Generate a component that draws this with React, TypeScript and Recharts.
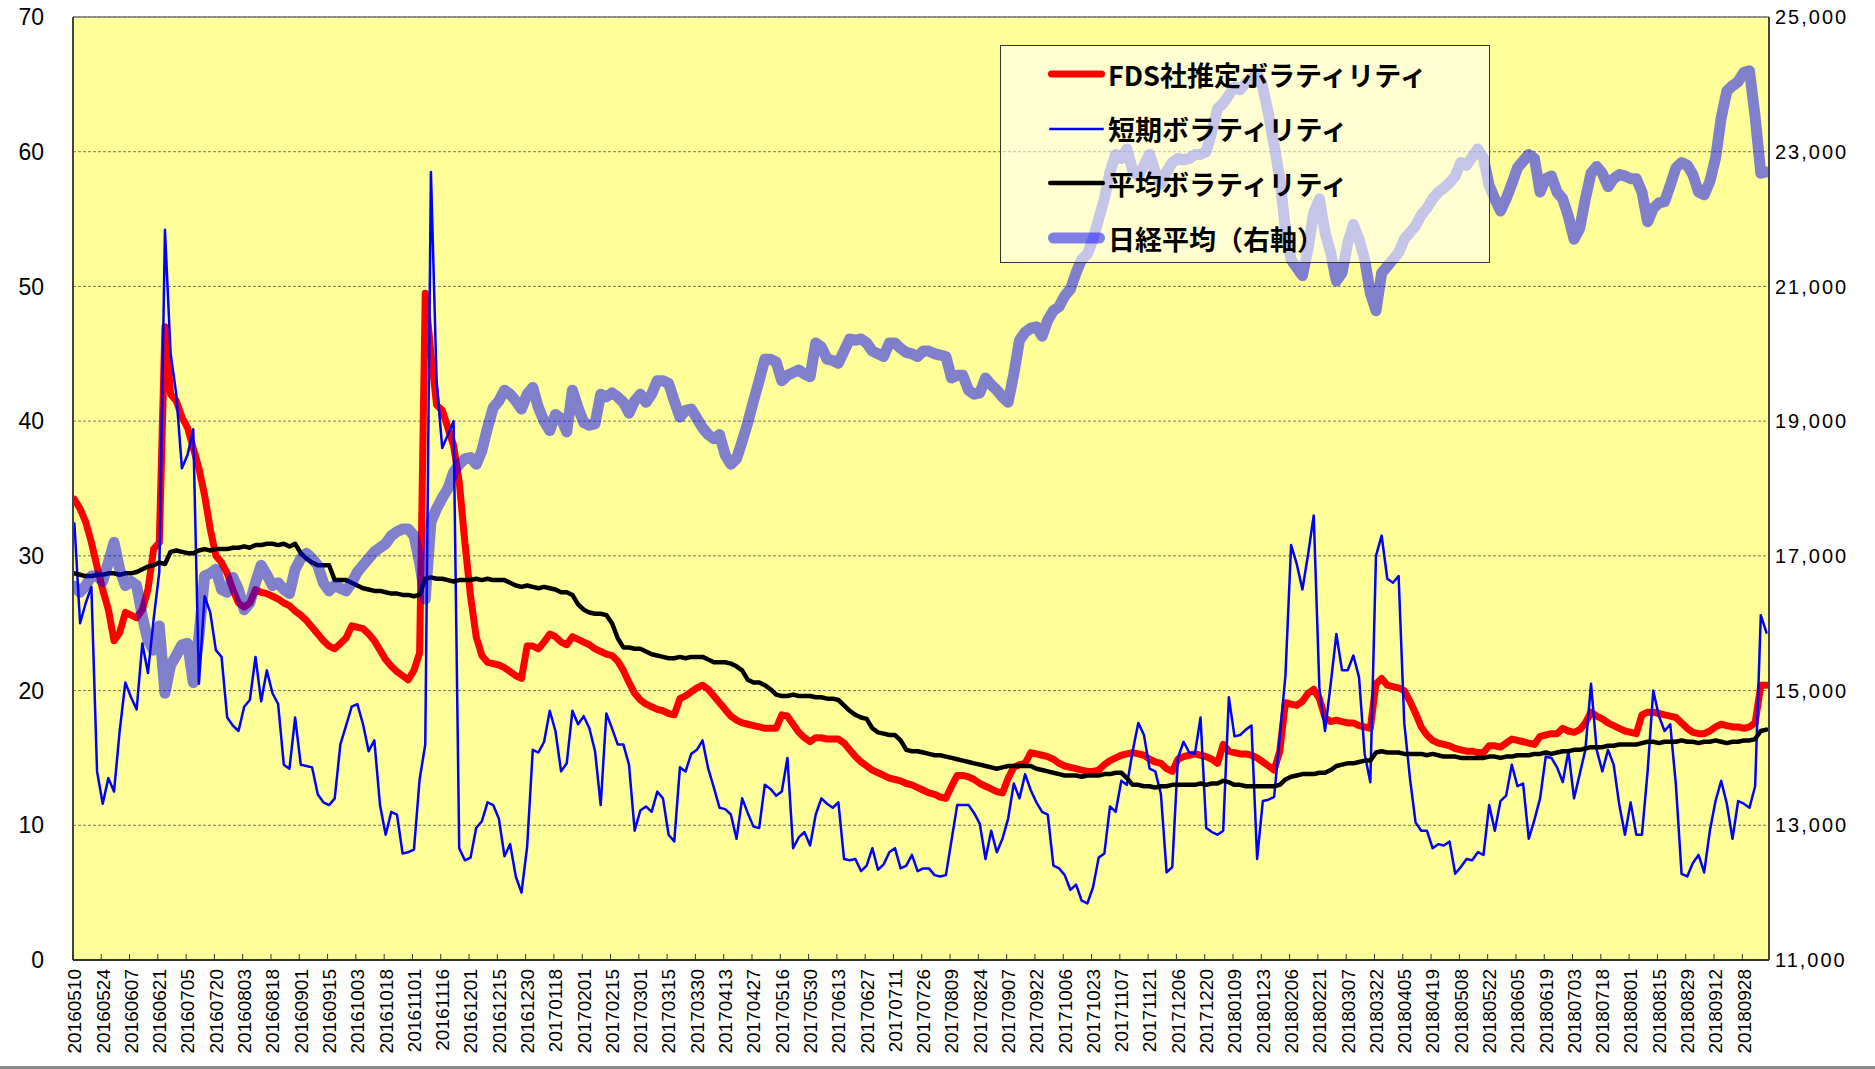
import { CartesianGrid, Legend, Line, LineChart, ReferenceLine, XAxis, YAxis } from "recharts";

const W = 1875;
const H = 1069;

// one label every 10 trading days; data points every 2 trading days (5 per label)
const dateLabels = [
  "20160510", "20160524", "20160607", "20160621", "20160705", "20160720", "20160803", "20160818",
  "20160901", "20160915", "20161003", "20161018", "20161101", "20161116", "20161201", "20161215",
  "20161230", "20170118", "20170201", "20170215", "20170301", "20170315", "20170330", "20170413",
  "20170427", "20170516", "20170530", "20170613", "20170627", "20170711", "20170726", "20170809",
  "20170824", "20170907", "20170922", "20171006", "20171023", "20171107", "20171121", "20171206",
  "20171220", "20180109", "20180123", "20180206", "20180221", "20180307", "20180322", "20180405",
  "20180419", "20180508", "20180522", "20180605", "20180619", "20180703", "20180718", "20180801",
  "20180815", "20180829", "20180912", "20180928",
];

const fdsVol = [
  34.2, 33.5, 32.5, 31.0, 29.2, 27.5, 26.0, 23.7, 24.3, 25.8,
  25.6, 25.4, 26.0, 27.5, 30.5, 31.0, 47.0, 42.0, 41.5, 40.3,
  39.5, 38.0, 36.5, 34.5, 32.0, 30.0, 29.5, 28.7, 27.5, 26.5,
  26.2, 26.5, 27.5, 27.3, 27.2, 27.0, 26.8, 26.5, 26.3, 25.9,
  25.6, 25.2, 24.7, 24.2, 23.7, 23.3, 23.1, 23.5, 23.9, 24.8,
  24.7, 24.6, 24.2, 23.7, 23.0, 22.3, 21.8, 21.4, 21.1, 20.8,
  21.5, 22.8, 49.5, 45.0, 41.2, 40.8, 39.5, 38.2, 35.5, 31.0,
  27.0, 24.0, 22.6, 22.1, 22.0, 21.9, 21.7, 21.4, 21.1, 20.9,
  23.3, 23.3, 23.1, 23.6, 24.2, 24.0, 23.6, 23.4, 24.0, 23.8,
  23.6, 23.4, 23.1, 22.9, 22.7, 22.6, 22.2, 21.5, 20.6, 19.8,
  19.3, 19.0, 18.8, 18.6, 18.5, 18.3, 18.2, 19.4, 19.6, 19.9,
  20.2, 20.4, 20.1, 19.6, 19.1, 18.6, 18.1, 17.8, 17.6, 17.5,
  17.4, 17.3, 17.2, 17.2, 17.2, 18.2, 18.1, 17.5, 16.9, 16.5,
  16.2, 16.5, 16.5, 16.4, 16.4, 16.4, 16.1, 15.6, 15.1, 14.7,
  14.4, 14.1, 13.9, 13.7, 13.5, 13.4, 13.3, 13.1, 13.0, 12.8,
  12.6, 12.4, 12.3, 12.1, 12.0, 12.9, 13.7, 13.7, 13.6, 13.4,
  13.1, 12.9, 12.7, 12.5, 12.4, 13.5, 14.3, 14.5, 14.6, 15.4,
  15.3, 15.2, 15.1, 14.9, 14.6, 14.4, 14.3, 14.2, 14.1, 14.0,
  14.0, 14.1, 14.5, 14.8, 15.0, 15.2, 15.3, 15.4, 15.3, 15.2,
  14.9, 14.7, 14.6, 14.2, 14.0, 14.9, 15.1, 15.2, 15.3, 15.2,
  15.1, 14.9, 14.6, 16.0, 15.5, 15.4, 15.3, 15.3, 15.2, 15.0,
  14.7, 14.4, 14.1, 15.5, 19.1, 19.0, 18.9, 19.2, 19.8, 20.1,
  19.4, 18.0, 17.7, 17.8, 17.7, 17.6, 17.6, 17.4, 17.3, 17.2,
  20.5, 20.9, 20.4, 20.3, 20.2, 20.0, 19.2, 18.3, 17.3, 16.7,
  16.3, 16.1, 16.0, 15.9, 15.7, 15.6, 15.5, 15.5, 15.4, 15.4,
  15.9, 15.9, 15.8, 16.1, 16.4, 16.3, 16.2, 16.1, 16.0, 16.6,
  16.7, 16.8, 16.8, 17.2, 17.0, 16.9, 17.1, 17.6, 18.4, 18.1,
  17.9, 17.6, 17.4, 17.2, 17.0, 16.9, 16.8, 18.2, 18.4, 18.4,
  18.3, 18.2, 18.1, 18.0, 17.6, 17.2, 16.9, 16.8, 16.8, 17.0,
  17.3, 17.5, 17.4, 17.3, 17.3, 17.2, 17.3, 17.6, 20.4, 20.4,
];

const shortVol = [
  32.4, 25.0, 26.5, 27.7, 14.0, 11.6, 13.5, 12.5, 17.0, 20.6,
  19.5, 18.6, 23.5, 21.3, 25.3, 28.8, 54.2, 45.0, 42.0, 36.5,
  37.5, 39.4, 20.5, 27.0, 25.8, 23.0, 22.5, 18.0, 17.4, 17.0,
  18.8, 19.3, 22.5, 19.2, 21.5, 19.8, 19.0, 14.5, 14.2, 18.0,
  14.5, 14.4, 14.3, 12.3, 11.7, 11.5, 12.0, 16.0, 17.4, 18.8,
  19.0, 17.5, 15.5, 16.3, 11.5, 9.3, 11.0, 10.8, 7.9, 8.0,
  8.2, 13.4, 16.0, 58.5, 43.0, 38.0, 39.0, 40.0, 8.3, 7.4,
  7.6, 9.8, 10.3, 11.7, 11.5, 10.5, 7.7, 8.6, 6.2, 5.0,
  8.4, 15.6, 15.4, 16.2, 18.5, 17.0, 14.0, 14.6, 18.5, 17.5,
  18.1, 17.2, 15.5, 11.5, 18.3, 17.2, 16.0, 16.0, 14.5, 9.6,
  11.1, 11.4, 11.0, 12.5, 12.0, 9.3, 8.8, 14.3, 14.0, 15.3,
  15.6, 16.3, 14.2, 12.8, 11.3, 11.2, 10.8, 9.0, 12.0, 10.9,
  9.9, 9.8, 13.0, 12.7, 12.2, 12.5, 15.0, 8.3, 9.1, 9.5,
  8.5, 10.8, 12.0, 11.6, 11.3, 11.7, 7.5, 7.4, 7.5, 6.6,
  7.0, 8.3, 6.7, 7.1, 8.0, 8.3, 6.8, 7.0, 7.8, 6.6,
  6.8, 6.8, 6.3, 6.2, 6.3, 8.9, 11.5, 11.5, 11.5, 10.9,
  10.1, 7.5, 9.6, 8.0, 9.0, 10.5, 13.1, 12.0, 13.8, 12.6,
  11.7, 11.0, 10.8, 7.0, 6.8, 6.3, 5.2, 5.6, 4.4, 4.2,
  5.4, 7.6, 7.9, 11.4, 11.0, 13.3, 13.0, 15.5, 17.6, 16.7,
  14.2, 14.0, 12.3, 6.5, 6.9, 15.0, 16.2, 15.4, 15.3, 18.0,
  9.8, 9.5, 9.3, 9.6, 19.5, 16.6, 16.7, 17.1, 17.4, 7.5,
  11.8, 11.9, 12.1, 16.6, 21.1, 30.8, 29.4, 27.5, 30.1, 33.0,
  20.2, 17.0, 20.5, 24.2, 21.5, 21.5, 22.6, 21.0, 15.3, 13.2,
  30.0, 31.5, 28.3, 28.0, 28.5, 17.6, 13.5, 10.2, 9.6, 9.6,
  8.3, 8.6, 8.5, 8.8, 6.4, 6.9, 7.5, 7.4, 8.0, 7.8,
  11.5, 9.6, 11.8, 12.2, 14.5, 12.9, 13.1, 9.0, 10.4, 12.0,
  15.1, 15.0, 14.3, 13.2, 15.5, 12.0, 13.8, 15.6, 20.5, 15.6,
  14.0, 15.6, 14.5, 11.5, 9.3, 11.7, 9.3, 9.3, 14.0, 20.0,
  18.1, 17.0, 17.5, 13.0, 6.4, 6.2, 7.2, 7.8, 6.5, 9.6,
  11.8, 13.3, 11.6, 9.0, 11.8, 11.6, 11.3, 12.9, 25.6, 24.3,
];

const avgVol = [
  28.7, 28.6, 28.5, 28.5, 28.6, 28.6, 28.7, 28.7, 28.6, 28.7,
  28.7, 28.8, 29.0, 29.2, 29.3, 29.5, 29.4, 30.3, 30.4, 30.3,
  30.2, 30.2, 30.4, 30.5, 30.4, 30.5, 30.5, 30.5, 30.6, 30.6,
  30.7, 30.6, 30.8, 30.8, 30.9, 30.9, 30.8, 30.9, 30.7, 30.9,
  30.2, 29.8, 29.5, 29.3, 29.3, 29.3, 28.2, 28.2, 28.2, 28.0,
  27.8, 27.6, 27.5, 27.4, 27.4, 27.3, 27.2, 27.2, 27.1, 27.1,
  27.0, 27.1, 28.3, 28.4, 28.3, 28.3, 28.2, 28.1, 28.2, 28.2,
  28.2, 28.3, 28.2, 28.3, 28.2, 28.2, 28.2, 28.0, 27.8, 27.7,
  27.8, 27.7, 27.6, 27.7, 27.6, 27.5, 27.3, 27.3, 27.1, 26.4,
  26.0, 25.8, 25.7, 25.7, 25.6, 25.0, 23.9, 23.2, 23.2, 23.1,
  23.1, 22.9, 22.7, 22.6, 22.5, 22.4, 22.4, 22.5, 22.4, 22.5,
  22.5, 22.5, 22.3, 22.1, 22.1, 22.1, 22.0, 21.8, 21.5, 20.8,
  20.6, 20.6, 20.4, 20.1, 19.7, 19.6, 19.6, 19.7, 19.6, 19.6,
  19.6, 19.5, 19.5, 19.4, 19.4, 19.3, 18.9, 18.5, 18.2, 18.0,
  17.9, 17.2, 16.9, 16.8, 16.7, 16.7, 16.3, 15.6, 15.5, 15.5,
  15.4, 15.3, 15.2, 15.2, 15.1, 15.0, 14.9, 14.8, 14.7, 14.6,
  14.5, 14.4, 14.3, 14.2, 14.3, 14.4, 14.4, 14.4, 14.4, 14.4,
  14.2, 14.1, 14.0, 13.9, 13.8, 13.7, 13.7, 13.7, 13.6, 13.7,
  13.7, 13.7, 13.8, 13.8, 13.9, 13.9, 13.5, 13.0, 13.0, 12.9,
  12.9, 12.8, 12.9, 12.9, 13.0, 13.0, 13.0, 13.0, 13.0, 13.1,
  13.0, 13.1, 13.1, 13.3, 13.2, 13.0, 13.0, 12.9, 12.9, 12.9,
  12.9, 12.9, 12.9, 13.0, 13.4, 13.6, 13.7, 13.8, 13.8, 13.8,
  13.9, 13.9, 14.1, 14.4, 14.5, 14.6, 14.6, 14.7, 14.8, 14.8,
  15.4, 15.5, 15.4, 15.4, 15.4, 15.3, 15.3, 15.3, 15.3, 15.2,
  15.3, 15.2, 15.1, 15.1, 15.1, 15.0, 15.0, 15.0, 15.0, 15.0,
  15.1, 15.1, 15.0, 15.1, 15.1, 15.2, 15.2, 15.2, 15.3, 15.3,
  15.4, 15.3, 15.4, 15.5, 15.5, 15.6, 15.6, 15.7, 15.8, 15.8,
  15.8, 15.9, 15.9, 16.0, 16.0, 16.0, 16.0, 16.1, 16.2, 16.2,
  16.1, 16.2, 16.2, 16.2, 16.3, 16.2, 16.2, 16.1, 16.2, 16.2,
  16.3, 16.2, 16.1, 16.2, 16.2, 16.3, 16.3, 16.4, 17.0, 17.1,
];

const nikkei = [
  16550, 16460, 16560, 16700, 16700, 16620, 16900, 17200, 16800, 16560,
  16620, 16560, 16100, 15740, 15600, 15960, 14960, 15380, 15520, 15680,
  15700, 15120, 15800, 16700, 16740, 16800, 16500, 16460, 16680, 16500,
  16200, 16300, 16600, 16860, 16720, 16560, 16600, 16500, 16440, 16800,
  16960, 17040, 16960, 16860, 16600, 16480, 16560, 16520, 16480, 16600,
  16760, 16860, 16960, 17060, 17120, 17180, 17300, 17360, 17400, 17400,
  17300, 16900, 16360, 17500, 17700, 17860, 18000, 18240, 18360, 18440,
  18460, 18360, 18560, 18900, 19200, 19300, 19460, 19400, 19300, 19180,
  19400, 19500, 19200, 19000, 18860, 19100, 19040, 18840, 19460, 19200,
  18980, 18940, 18960, 19400, 19360, 19420, 19360, 19280, 19120, 19300,
  19400, 19280, 19400, 19600, 19600, 19560, 19300, 19060, 19160, 19180,
  19040, 18900, 18800, 18740, 18800, 18500, 18360, 18440, 18700, 18980,
  19300, 19600, 19920, 19920, 19880, 19600, 19680, 19720, 19760, 19700,
  19660, 20160, 20100, 19920, 19900, 19860, 20040, 20220, 20200, 20220,
  20160, 20040, 20000, 19960, 20160, 20160, 20080, 20020, 20000, 19960,
  20040, 20040, 20000, 19980, 19960, 19640, 19680, 19680, 19460, 19400,
  19420, 19640, 19540, 19460, 19360, 19280, 19700, 20200, 20320, 20380,
  20400, 20260, 20500, 20640, 20700, 20860, 20960, 21200, 21400, 21480,
  21700, 22000, 22300, 22700, 22960, 22900, 23040, 22720, 22640, 22800,
  22960, 22700, 22520, 22700, 22840, 22900, 22880, 22900, 22960, 22960,
  23000, 23300, 23640, 23720, 23840, 23960, 23920, 24020, 24080, 24160,
  23960, 23560, 23100, 22600, 21840, 21400, 21280, 21160, 21560, 22100,
  22300, 21800, 21500, 21080, 21200, 21640, 21920, 21700, 21400, 20900,
  20640, 21200, 21300, 21400, 21500, 21700, 21800, 21900, 22060, 22160,
  22300, 22400, 22460, 22540, 22640, 22840, 22800, 22920, 23040, 22900,
  22500, 22300, 22120, 22300, 22520, 22760, 22860, 22960, 22900, 22400,
  22600, 22640, 22400, 22300, 22040, 21700, 21860, 22300, 22680, 22780,
  22680, 22480, 22600, 22660, 22640, 22600, 22600, 22400, 21960, 22160,
  22240, 22260, 22500, 22760, 22840, 22800, 22660, 22400, 22360, 22560,
  22900, 23500, 23900, 23980, 24040, 24180, 24200, 23520, 22680, 22700,
];

const leftTicks = [0, 10, 20, 30, 40, 50, 60, 70];
const rightTicks = [11000, 13000, 15000, 17000, 19000, 21000, 23000, 25000];
const xTicks = dateLabels.map((_, k) => k * 5);

const SERIES = [
  { key: "fds", name: "FDS社推定ボラティリティ", color: "#ff0000", width: 7, opacity: 1, axis: "left" },
  { key: "short", name: "短期ボラティリティ", color: "#0000ff", width: 2.5, opacity: 1, axis: "left" },
  { key: "avg", name: "平均ボラティリティ", color: "#000000", width: 4.5, opacity: 1, axis: "left" },
  { key: "nikkei", name: "日経平均（右軸）", color: "#0000ff", width: 11, opacity: 0.5, axis: "right" },
];

const data = fdsVol.map((v, i) => ({
  i,
  fds: v,
  short: shortVol[i],
  avg: avgVol[i],
  nikkei: nikkei[i],
}));

function DateTick(props: any) {
  const { x, y, payload } = props;
  const label = dateLabels[Math.round(payload.value / 5)];
  const axisY = y - 9;
  return (
    <g>
      <line x1={x - 1.5} x2={x - 1.5} y1={axisY} y2={axisY - 6} stroke="#333" strokeWidth={1} />
      <text
        transform={`translate(${x},${y}) rotate(-90)`}
        textAnchor="end"
        dy="0.36em"
        fontSize={19}
        fill="#000"
      >
        {label}
      </text>
    </g>
  );
}

function LegendBox(props: any) {
  const order = SERIES.map((s) => s.key);
  const payload = [...((props.payload ?? []) as any[])].sort(
    (a, b) => order.indexOf(a.dataKey) - order.indexOf(b.dataKey),
  );
  return (
    <div
      style={{
        width: 490,
        height: 218,
        boxSizing: "border-box",
        border: "1px solid #333",
        background: "rgba(255,255,255,0.55)",
        paddingTop: 1,
      }}
    >
      {payload.map((entry) => {
        const s = SERIES.find((d) => d.key === entry.dataKey) ?? SERIES[0];
        return (
          <div key={s.key} style={{ height: 54.6, display: "flex", alignItems: "center" }}>
            <svg width={107} height={20} style={{ flex: "none" }}>
              <line
                x1={47 + s.width / 2}
                x2={104 - s.width / 2}
                y1={10}
                y2={10}
                stroke={s.color}
                strokeOpacity={s.opacity}
                strokeWidth={s.width}
                strokeLinecap={s.width > 3 ? "round" : "butt"}
              />
            </svg>
            <span
              style={{
                fontFamily: "'Noto Sans CJK JP', sans-serif",
                fontWeight: 700,
                fontSize: 27,
                color: "#000",
                whiteSpace: "nowrap",
                lineHeight: 1,
              }}
            >
              {entry.value}
            </span>
          </div>
        );
      })}
    </div>
  );
}

export default function App() {
  return (
    <div
      style={{
        position: "absolute",
        left: 0,
        top: 0,
        width: W,
        height: H,
        background: "#fff",
        boxSizing: "border-box",
        borderBottom: "3px solid #8c8c8c",
        fontFamily: "'Liberation Sans', Arial, sans-serif",
      }}
    >
      <LineChart width={W} height={H - 3} data={data} margin={{ top: 17, right: 0, bottom: 0, left: 0 }}>
        <CartesianGrid
          yAxisId="left"
          vertical={false}
          stroke="#555"
          strokeDasharray="3 2"
          strokeWidth={0.8}
          fill="#ffff99"
          fillOpacity={1}
        />
        <XAxis
          dataKey="i"
          type="number"
          domain={[-0.25, 299.45]}
          ticks={xTicks}
          interval={0}
          height={106}
          tickSize={0}
          tickLine={false}
          tickMargin={9}
          tick={<DateTick />}
          axisLine={{ stroke: "#333", strokeWidth: 2 }}
          allowDataOverflow
        />
        <YAxis
          yAxisId="left"
          domain={[0, 70]}
          ticks={leftTicks}
          interval={0}
          width={73}
          tickSize={0}
          tickLine={false}
          tickMargin={29}
          tick={{ fontSize: 23, fill: "#000" }}
          axisLine={{ stroke: "#444", strokeWidth: 2 }}
        />
        <YAxis
          yAxisId="right"
          orientation="right"
          domain={[11000, 25000]}
          ticks={rightTicks}
          interval={0}
          width={106}
          tickSize={0}
          tickLine={false}
          tickMargin={6}
          tick={{ fontSize: 20, fill: "#000", letterSpacing: 2 }}
          tickFormatter={(v: number) => v.toLocaleString("en-US")}
          axisLine={{ stroke: "#444", strokeWidth: 2 }}
        />
        <ReferenceLine yAxisId="left" y={70} stroke="#777" strokeWidth={1.5} />
        {SERIES.map((s) => (
          <Line
            key={s.key}
            yAxisId={s.axis}
            type="linear"
            dataKey={s.key}
            name={s.name}
            stroke={s.color}
            strokeOpacity={s.opacity}
            strokeWidth={s.width}
            strokeLinejoin="round"
            strokeLinecap="round"
            dot={false}
            activeDot={false}
            isAnimationActive={false}
          />
        ))}
        <Legend
          layout="vertical"
          align="center"
          verticalAlign="middle"
          content={<LegendBox />}
          wrapperStyle={{ left: 1000, top: 45, width: 490, height: 218 }}
        />
      </LineChart>
    </div>
  );
}
